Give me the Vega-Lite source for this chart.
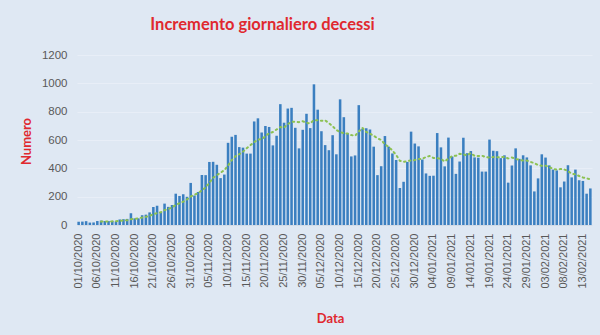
{
  "$schema": "https://vega.github.io/schema/vega-lite/v6.json",
  "width": 515,
  "height": 170,
  "autosize": "none",
  "padding": {"left": 77, "top": 55, "right": 8, "bottom": 110},
  "background": "#dfe8f3",
  "config": {"view": {"stroke": null}, "font": "Liberation Sans", "axis": {"labelOverlap": false}},
  "title": {
    "text": "Incremento giornaliero decessi",
    "font": "Lato",
    "fontSize": 16.5,
    "fontWeight": "bold",
    "color": "#e0282f",
    "anchor": "middle",
    "offset": 16,
    "dx": -72
  },
  "data": {"values": [
    {"d":"01/10/2020","v":23,"m":null},{"d":"02/10/2020","v":24,"m":null},{"d":"03/10/2020","v":27,"m":null},{"d":"04/10/2020","v":17,"m":null},{"d":"05/10/2020","v":18,"m":null},{"d":"06/10/2020","v":28,"m":null},{"d":"07/10/2020","v":31,"m":24.0},{"d":"08/10/2020","v":28,"m":24.7},{"d":"09/10/2020","v":28,"m":25.3},{"d":"10/10/2020","v":29,"m":25.6},{"d":"11/10/2020","v":26,"m":26.9},{"d":"12/10/2020","v":39,"m":29.9},{"d":"13/10/2020","v":41,"m":31.7},{"d":"14/10/2020","v":43,"m":33.4},{"d":"15/10/2020","v":83,"m":41.3},{"d":"16/10/2020","v":47,"m":44.0},{"d":"17/10/2020","v":47,"m":46.6},{"d":"18/10/2020","v":69,"m":52.7},{"d":"19/10/2020","v":73,"m":57.6},{"d":"20/10/2020","v":89,"m":64.4},{"d":"21/10/2020","v":127,"m":76.4},{"d":"22/10/2020","v":136,"m":84.0},{"d":"23/10/2020","v":91,"m":90.3},{"d":"24/10/2020","v":151,"m":105.1},{"d":"25/10/2020","v":128,"m":113.6},{"d":"26/10/2020","v":141,"m":123.3},{"d":"27/10/2020","v":221,"m":142.1},{"d":"28/10/2020","v":205,"m":153.3},{"d":"29/10/2020","v":217,"m":164.9},{"d":"30/10/2020","v":199,"m":180.3},{"d":"31/10/2020","v":297,"m":201.1},
    {"d":"01/11/2020","v":208,"m":212.6},{"d":"02/11/2020","v":233,"m":225.7},{"d":"03/11/2020","v":353,"m":244.6},{"d":"04/11/2020","v":352,"m":265.6},{"d":"05/11/2020","v":445,"m":298.1},{"d":"06/11/2020","v":446,"m":333.4},{"d":"07/11/2020","v":425,"m":351.7},{"d":"08/11/2020","v":331,"m":369.3},{"d":"09/11/2020","v":356,"m":386.9},{"d":"10/11/2020","v":580,"m":419.3},{"d":"11/11/2020","v":623,"m":458.0},{"d":"12/11/2020","v":636,"m":485.3},{"d":"13/11/2020","v":550,"m":500.1},{"d":"14/11/2020","v":546,"m":517.4},{"d":"15/11/2020","v":504,"m":542.1},{"d":"16/11/2020","v":504,"m":563.3},{"d":"17/11/2020","v":731,"m":584.9},{"d":"18/11/2020","v":753,"m":603.4},{"d":"19/11/2020","v":653,"m":605.9},{"d":"20/11/2020","v":699,"m":627.1},{"d":"21/11/2020","v":692,"m":648.0},{"d":"22/11/2020","v":562,"m":656.3},{"d":"23/11/2020","v":630,"m":674.3},{"d":"24/11/2020","v":853,"m":691.7},{"d":"25/11/2020","v":722,"m":687.3},{"d":"26/11/2020","v":822,"m":711.4},{"d":"27/11/2020","v":827,"m":729.7},{"d":"28/11/2020","v":686,"m":728.9},{"d":"29/11/2020","v":541,"m":725.9},{"d":"30/11/2020","v":672,"m":731.9},
    {"d":"01/12/2020","v":785,"m":722.1},{"d":"02/12/2020","v":684,"m":716.7},{"d":"03/12/2020","v":993,"m":741.1},{"d":"04/12/2020","v":814,"m":739.3},{"d":"05/12/2020","v":662,"m":735.9},{"d":"06/12/2020","v":564,"m":739.1},{"d":"07/12/2020","v":528,"m":718.6},{"d":"08/12/2020","v":634,"m":697.0},{"d":"09/12/2020","v":499,"m":670.6},{"d":"10/12/2020","v":887,"m":655.4},{"d":"11/12/2020","v":761,"m":647.9},{"d":"12/12/2020","v":649,"m":646.0},{"d":"13/12/2020","v":484,"m":634.6},{"d":"14/12/2020","v":491,"m":629.3},{"d":"15/12/2020","v":846,"m":659.6},{"d":"16/12/2020","v":680,"m":685.4},{"d":"17/12/2020","v":683,"m":656.3},{"d":"18/12/2020","v":674,"m":643.9},{"d":"19/12/2020","v":553,"m":630.1},{"d":"20/12/2020","v":352,"m":611.3},{"d":"21/12/2020","v":415,"m":600.4},{"d":"22/12/2020","v":628,"m":569.3},{"d":"23/12/2020","v":553,"m":551.1},{"d":"24/12/2020","v":505,"m":525.7},{"d":"25/12/2020","v":459,"m":495.0},{"d":"26/12/2020","v":261,"m":453.3},{"d":"27/12/2020","v":305,"m":446.6},{"d":"28/12/2020","v":445,"m":450.9},{"d":"29/12/2020","v":659,"m":455.3},{"d":"30/12/2020","v":575,"m":458.4},{"d":"31/12/2020","v":555,"m":465.6},
    {"d":"01/01/2021","v":462,"m":466.0},{"d":"02/01/2021","v":364,"m":480.7},{"d":"03/01/2021","v":347,"m":486.7},{"d":"04/01/2021","v":348,"m":472.9},{"d":"05/01/2021","v":649,"m":471.4},{"d":"06/01/2021","v":548,"m":467.6},{"d":"07/01/2021","v":414,"m":447.4},{"d":"08/01/2021","v":617,"m":469.6},{"d":"09/01/2021","v":483,"m":486.6},{"d":"10/01/2021","v":361,"m":488.6},{"d":"11/01/2021","v":448,"m":502.9},{"d":"12/01/2021","v":616,"m":498.1},{"d":"13/01/2021","v":507,"m":492.3},{"d":"14/01/2021","v":522,"m":507.7},{"d":"15/01/2021","v":477,"m":487.7},{"d":"16/01/2021","v":475,"m":486.6},{"d":"17/01/2021","v":377,"m":488.9},{"d":"18/01/2021","v":377,"m":478.7},{"d":"19/01/2021","v":603,"m":476.9},{"d":"20/01/2021","v":524,"m":479.3},{"d":"21/01/2021","v":521,"m":479.1},{"d":"22/01/2021","v":472,"m":478.4},{"d":"23/01/2021","v":492,"m":480.9},{"d":"24/01/2021","v":299,"m":469.7},{"d":"25/01/2021","v":420,"m":475.9},{"d":"26/01/2021","v":541,"m":467.0},{"d":"27/01/2021","v":467,"m":458.9},{"d":"28/01/2021","v":492,"m":454.7},{"d":"29/01/2021","v":477,"m":455.4},{"d":"30/01/2021","v":421,"m":445.3},{"d":"31/01/2021","v":237,"m":436.4},
    {"d":"01/02/2021","v":329,"m":423.4},{"d":"02/02/2021","v":499,"m":417.4},{"d":"03/02/2021","v":476,"m":418.7},{"d":"04/02/2021","v":421,"m":408.6},{"d":"05/02/2021","v":391,"m":396.3},{"d":"06/02/2021","v":385,"m":391.1},{"d":"07/02/2021","v":266,"m":395.3},{"d":"08/02/2021","v":307,"m":392.1},{"d":"09/02/2021","v":422,"m":381.1},{"d":"10/02/2021","v":336,"m":361.1},{"d":"11/02/2021","v":391,"m":356.9},{"d":"12/02/2021","v":316,"m":346.1},{"d":"13/02/2021","v":311,"m":335.6},{"d":"14/02/2021","v":221,"m":329.1},{"d":"15/02/2021","v":258,"m":322.1}
  ]},
  "encoding": {
    "x": {
      "field": "d", "type": "ordinal", "sort": null,
      "scale": {"paddingInner": 0.32, "paddingOuter": 0.1},
      "axis": {
        "values": ["01/10/2020","06/10/2020","11/10/2020","16/10/2020","21/10/2020","26/10/2020","31/10/2020","05/11/2020","10/11/2020","15/11/2020","20/11/2020","25/11/2020","30/11/2020","05/12/2020","10/12/2020","15/12/2020","20/12/2020","25/12/2020","30/12/2020","04/01/2021","09/01/2021","14/01/2021","19/01/2021","24/01/2021","29/01/2021","03/02/2021","08/02/2021","13/02/2021"],
        "labelAngle": -90,
        "labelFontSize": 11,
        "labelColor": "#595959",
        "labelPadding": 8,
        "labelOverlap": false,
        "ticks": false,
        "domain": true,
        "domainColor": "#d3dbe6",
        "title": "Data",
        "titleColor": "#e0282f",
        "titleFont": "Lato",
        "titleFontSize": 13,
        "titleFontWeight": "bold",
        "titleX": 253,
        "titleY": 93,
        "titleBaseline": "middle",
        "titleAlign": "center"
      }
    }
  },
  "layer": [
    {
      "mark": {"type": "bar", "color": "#3b7fc0"},
      "encoding": {
        "y": {
          "field": "v", "type": "quantitative",
          "scale": {"domain": [0, 1200], "nice": false},
          "axis": {
            "values": [0, 200, 400, 600, 800, 1000, 1200],
            "format": "d",
            "labelOverlap": false,
            "labelFontSize": 11.5,
            "labelColor": "#595959",
            "labelPadding": 10,
            "ticks": false,
            "domain": false,
            "gridColor": "#e8eef7",
            "gridWidth": 1,
            "title": "Numero",
            "titleColor": "#e0282f",
            "titleFont": "Lato",
            "titleFontSize": 13,
            "titleFontWeight": "bold",
            "titleX": -51,
            "titleY": 86,
            "titleAngle": -90,
            "titleAlign": "center",
            "titleBaseline": "middle"
          }
        }
      }
    },
    {
      "mark": {"type": "line", "color": "#8cc152", "strokeWidth": 2, "strokeDash": [1.5, 3.5], "strokeCap": "round"},
      "encoding": {
        "y": {
          "field": "m", "type": "quantitative",
          "scale": {"domain": [0, 1200], "nice": false},
          "axis": {
            "values": [0, 200, 400, 600, 800, 1000, 1200],
            "format": "d",
            "labelOverlap": false,
            "labelFontSize": 11.5,
            "labelColor": "#595959",
            "labelPadding": 10,
            "ticks": false,
            "domain": false,
            "gridColor": "#e8eef7",
            "gridWidth": 1,
            "title": "Numero",
            "titleColor": "#e0282f",
            "titleFont": "Lato",
            "titleFontSize": 13,
            "titleFontWeight": "bold",
            "titleX": -51,
            "titleY": 86,
            "titleAngle": -90,
            "titleAlign": "center",
            "titleBaseline": "middle"
          }
        }
      }
    }
  ]
}
